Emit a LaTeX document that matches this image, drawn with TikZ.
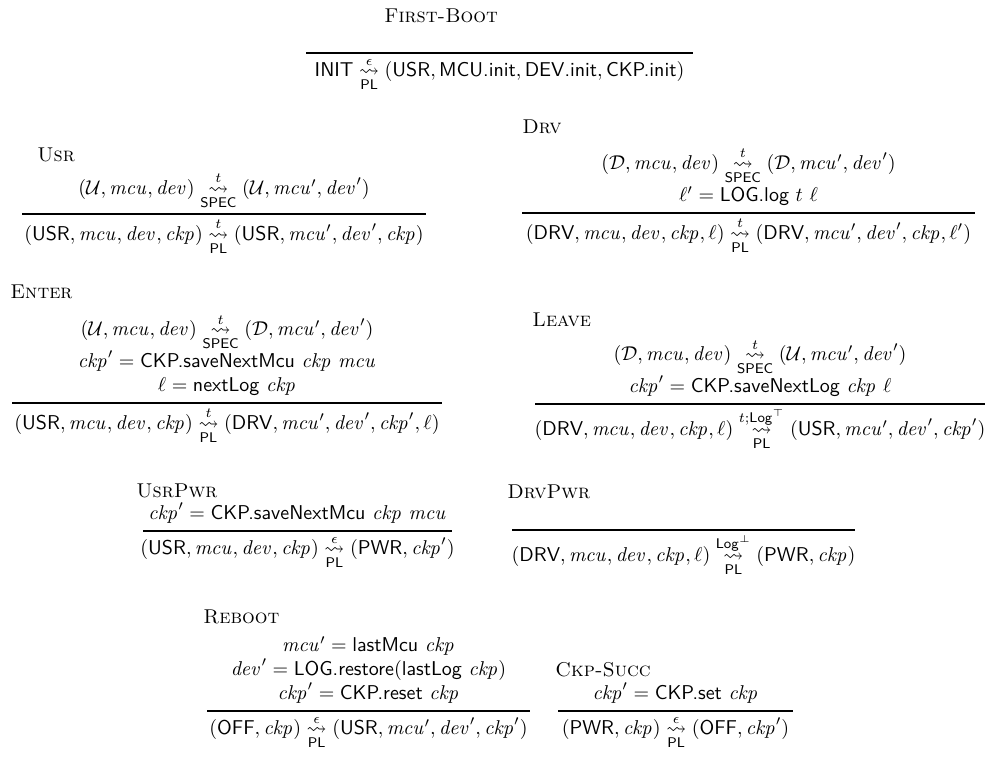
\documentclass[tikz,border=0pt]{standalone}
\usepackage{amsmath,amssymb}
\usetikzlibrary{calc}
\newcommand{\spc}[1]{\mathrel{\mathop{\kern0pt\rightsquigarrow}\limits^{#1}_{\mathsf{SPEC}}}}
\newcommand{\plt}[1]{\mathrel{\mathop{\kern0pt\rightsquigarrow}\limits^{#1}_{\mathsf{PL}}}}
\newcommand{\sv}[1]{\textsf{#1}}
\newcommand{\vv}[1]{\mathit{#1}}
\begin{document}
\begin{tikzpicture}[x=0.5pt,y=-0.5pt,
  rulename/.style={anchor=base west, inner sep=0pt},
  prem/.style={anchor=south, inner sep=0pt, yshift=2pt},
  concl/.style={anchor=north, inner sep=0pt, yshift=-1.8pt},
  ruleline/.style={line width=0.55pt}]
\useasboundingbox (0,0) rectangle (988,757);

% First-Boot
\coordinate (fbL) at (306,53); \coordinate (fbR) at (693,53);
\coordinate (fbM) at ($(fbL)!0.5!(fbR)$);
\draw[ruleline] (fbL) -- (fbR);
\node[rulename] (fbN) at (384,22) {\textsc{First-Boot}};
\node[concl] (fbC) at (fbM) {$\sv{INIT} \plt{\epsilon} (\sv{USR}, \sv{MCU.init}, \sv{DEV.init}, \sv{CKP.init})$};

% Usr
\coordinate (usL) at (22,214); \coordinate (usR) at (426,214);
\coordinate (usM) at ($(usL)!0.5!(usR)$);
\draw[ruleline] (usL) -- (usR);
\node[rulename] (usN) at (37,161) {\textsc{Usr}};
\node[prem] (usP) at (usM) {$\begin{array}{@{}c@{}}
 (\mathcal{U}, \vv{mcu}, \vv{dev}) \spc{t} (\mathcal{U}, \vv{mcu}', \vv{dev}')
 \end{array}$};
\node[concl] (usC) at (usM) {$(\sv{USR}, \vv{mcu}, \vv{dev}, \vv{ckp}) \plt{t} (\sv{USR}, \vv{mcu}', \vv{dev}', \vv{ckp})$};

% Drv
\coordinate (dvL) at (522,213); \coordinate (dvR) at (975,213);
\coordinate (dvM) at ($(dvL)!0.5!(dvR)$);
\draw[ruleline] (dvL) -- (dvR);
\node[rulename] (dvN) at (522,133) {\textsc{Drv}};
\node[prem] (dvP) at (dvM) {$\begin{array}{@{}c@{}}
 (\mathcal{D}, \vv{mcu}, \vv{dev}) \spc{t} (\mathcal{D}, \vv{mcu}', \vv{dev}')\\
 \ell' = \sv{LOG.log}\ t\ \ell
 \end{array}$};
\node[concl] (dvC) at (dvM) {$(\sv{DRV}, \vv{mcu}, \vv{dev}, \vv{ckp}, \ell) \plt{t} (\sv{DRV}, \vv{mcu}', \vv{dev}', \vv{ckp}, \ell')$};

% Enter
\coordinate (enL) at (12,403); \coordinate (enR) at (442,403);
\coordinate (enM) at ($(enL)!0.5!(enR)$);
\draw[ruleline] (enL) -- (enR);
\node[rulename] (enN) at (10,298) {\textsc{Enter}};
\node[prem] (enP) at (enM) {$\begin{array}{@{}c@{}}
 (\mathcal{U}, \vv{mcu}, \vv{dev}) \spc{t} (\mathcal{D}, \vv{mcu}', \vv{dev}')\\
 \vv{ckp}' = \sv{CKP.saveNextMcu}\ \vv{ckp}\ \vv{mcu}\\
 \ell = \sv{nextLog}\ \vv{ckp}
 \end{array}$};
\node[concl] (enC) at (enM) {$(\sv{USR}, \vv{mcu}, \vv{dev}, \vv{ckp}) \plt{t} (\sv{DRV}, \vv{mcu}', \vv{dev}', \vv{ckp}', \ell)$};

% Leave
\coordinate (lvL) at (535,404); \coordinate (lvR) at (985,404);
\coordinate (lvM) at ($(lvL)!0.5!(lvR)$);
\draw[ruleline] (lvL) -- (lvR);
\node[rulename] (lvN) at (532,326) {\textsc{Leave}};
\node[prem] (lvP) at (lvM) {$\begin{array}{@{}c@{}}
 (\mathcal{D}, \vv{mcu}, \vv{dev}) \spc{t} (\mathcal{U}, \vv{mcu}', \vv{dev}')\\
 \vv{ckp}' = \sv{CKP.saveNextLog}\ \vv{ckp}\ \ell
 \end{array}$};
\node[concl] (lvC) at (lvM) {$(\sv{DRV}, \vv{mcu}, \vv{dev}, \vv{ckp}, \ell) \plt{t;\mathsf{Log}^{\top}} (\sv{USR}, \vv{mcu}', \vv{dev}', \vv{ckp}')$};

% UsrPwr
\coordinate (upL) at (143,531); \coordinate (upR) at (452,531);
\coordinate (upM) at ($(upL)!0.5!(upR)$);
\draw[ruleline] (upL) -- (upR);
\node[rulename] (upN) at (136,497) {\textsc{UsrPwr}};
\node[prem] (upP) at (upM) {$\begin{array}{@{}c@{}}
 \vv{ckp}' = \sv{CKP.saveNextMcu}\ \vv{ckp}\ \vv{mcu}
 \end{array}$};
\node[concl] (upC) at (upM) {$(\sv{USR}, \vv{mcu}, \vv{dev}, \vv{ckp}) \plt{\epsilon} (\sv{PWR}, \vv{ckp}')$};

% DrvPwr
\coordinate (dpL) at (512,530); \coordinate (dpR) at (855,530);
\coordinate (dpM) at ($(dpL)!0.5!(dpR)$);
\draw[ruleline] (dpL) -- (dpR);
\node[rulename] (dpN) at (507,498) {\textsc{DrvPwr}};
\node[concl] (dpC) at (dpM) {$(\sv{DRV}, \vv{mcu}, \vv{dev}, \vv{ckp}, \ell) \plt{\mathsf{Log}^{\bot}} (\sv{PWR}, \vv{ckp})$};

% Reboot
\coordinate (rbL) at (207,711); \coordinate (rbR) at (530,711);
\coordinate (rbM) at ($(rbL)!0.5!(rbR)$);
\draw[ruleline] (rbL) -- (rbR);
\node[rulename] (rbN) at (203,623) {\textsc{Reboot}};
\node[prem] (rbP) at (rbM) {$\begin{array}{@{}c@{}}
 \vv{mcu}' = \sv{lastMcu}\ \vv{ckp}\\
 \vv{dev}' = \sv{LOG.restore}(\sv{lastLog}\ \vv{ckp})\\
 \vv{ckp}' = \sv{CKP.reset}\ \vv{ckp}
 \end{array}$};
\node[concl] (rbC) at (rbM) {$(\sv{OFF}, \vv{ckp}) \plt{\epsilon} (\sv{USR}, \vv{mcu}', \vv{dev}', \vv{ckp}')$};

% Ckp-Succ
\coordinate (csL) at (558,711); \coordinate (csR) at (793,711);
\coordinate (csM) at ($(csL)!0.5!(csR)$);
\draw[ruleline] (csL) -- (csR);
\node[rulename] (csN) at (555,676) {\textsc{Ckp-Succ}};
\node[prem] (csP) at (csM) {$\begin{array}{@{}c@{}}
 \vv{ckp}' = \sv{CKP.set}\ \vv{ckp}
 \end{array}$};
\node[concl] (csC) at (csM) {$(\sv{PWR}, \vv{ckp}) \plt{\epsilon} (\sv{OFF}, \vv{ckp}')$};
\end{tikzpicture}
\end{document}
